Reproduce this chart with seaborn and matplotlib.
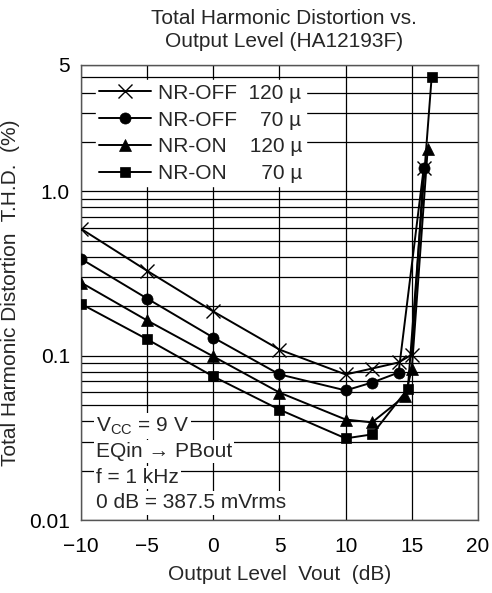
import numpy as np
import pandas as pd
import matplotlib
matplotlib.use("Agg")
import matplotlib.pyplot as plt
import seaborn as sns

# ------- data -------
x_off120 = [-10, -5, 0, 5, 10, 12, 14, 15, 15.9]
y_off120 = [0.593, 0.329, 0.186, 0.109, 0.0769, 0.0836, 0.091, 0.1016, 1.39]

x_off70 = [-10, -5, 0, 5, 10, 12, 14, 15.9]
y_off70 = [0.389, 0.223, 0.129, 0.077, 0.0615, 0.0687, 0.079, 1.39]

x_on120 = [-10, -5, 0, 5, 10, 12, 14.5, 15, 16.2]
y_on120 = [0.279, 0.164, 0.099, 0.0597, 0.0409, 0.0393, 0.057, 0.083, 1.81]

x_on70 = [-10, -5, 0, 5, 10, 12, 14.7, 16.5]
y_on70 = [0.207, 0.126, 0.0748, 0.047, 0.0314, 0.0332, 0.063, 4.98]

series_labels = ["NR-OFF  120 µ", "NR-OFF    70 µ", "NR-ON    120 µ", "NR-ON      70 µ"]
series_markers = ["x", "o", "^", "s"]

x_ticks = [-10, -5, 0, 5, 10, 15, 20]
x_ticklabels = ["\u221210", "\u22125", "0", "5", "10", "15", "20"]
y_top = 5.89
y_ticks = [0.01, 0.1, 1.0, y_top]
y_ticklabels = ["0.01", "0.1", "1.0", "5"]

conditions = ["V$_\\mathregular{CC}$ = 9 V", "EQin \u2192 PBout", "f = 1 kHz", "0 dB = 387.5 mVrms"]
# -------------------------------------------

FS = 15

sns.set_theme(style="white")
plt.rcParams["font.family"] = ["Liberation Sans", "DejaVu Sans"]
plt.rcParams["mathtext.fontset"] = "custom"
plt.rcParams["mathtext.rm"] = "Liberation Sans"

fig = plt.figure(figsize=(4.92, 5.93), dpi=100)
ax = fig.add_axes([0.1646, 0.1231, 0.8069, 0.7673])

xs = [x_off120, x_off70, x_on120, x_on70]
ys = [y_off120, y_off70, y_on120, y_on70]
msizes = [10, 8, 8, 7]
for xv, yv, lab, mk, ms in zip(xs, ys, series_labels, series_markers, msizes):
    sns.lineplot(x=xv, y=yv, ax=ax, color="black", lw=1.4, marker=mk,
                 markersize=ms, markeredgecolor="black",
                 markeredgewidth=1.0 if mk == "x" else 0.5,
                 sort=False, estimator=None, label=lab, zorder=5)

ax.set_yscale("log")
ax.set_xlim(-10, 20)
ax.set_ylim(0.01, y_top)

ax.set_xticks(x_ticks)
ax.set_xticklabels(x_ticklabels, fontsize=FS)
ax.yaxis.set_major_locator(matplotlib.ticker.FixedLocator(y_ticks))
ax.yaxis.set_major_formatter(matplotlib.ticker.FixedFormatter(y_ticklabels))
ax.yaxis.set_minor_locator(matplotlib.ticker.LogLocator(base=10, subs=np.arange(2, 10)))
ax.yaxis.set_minor_formatter(matplotlib.ticker.NullFormatter())
ax.tick_params(axis="both", which="both", length=0, labelsize=FS, colors="black")
ax.tick_params(axis="x", pad=12)
ax.tick_params(axis="y", pad=8)

ax.grid(True, which="major", axis="x", color="black", lw=0.9)
ax.grid(True, which="both", axis="y", color="black", lw=0.9)
for s in ax.spines.values():
    s.set_color("#555555")
    s.set_linewidth(1.0)

leg = ax.legend(loc="upper left", bbox_to_anchor=(0.038, 0.966), fontsize=FS,
                frameon=True, framealpha=1, facecolor="white", edgecolor="white",
                handlelength=2.5, handletextpad=0.34, labelspacing=0.38,
                borderpad=0.15, borderaxespad=0, fancybox=False)
leg.set_zorder(6)

for i, txt in enumerate(conditions):
    ax.text(0.038, 0.207 - i * 0.0565, txt, transform=ax.transAxes, fontsize=FS,
            va="center", ha="left", zorder=7,
            bbox=dict(facecolor="white", edgecolor="none", pad=1.5))

ax.set_xlabel("Output Level  Vout  (dB)", fontsize=FS, labelpad=7)
ax.set_ylabel("Total Harmonic Distortion  T.H.D.  (%)", fontsize=FS)
ax.yaxis.set_label_coords(-0.154, 0.5)
fig.text(0.578, 0.984, "Total Harmonic Distortion vs.\nOutput Level (HA12193F)",
         ha="center", va="top", fontsize=FS, linespacing=1.25)

fig.savefig("out.png", dpi=100)
